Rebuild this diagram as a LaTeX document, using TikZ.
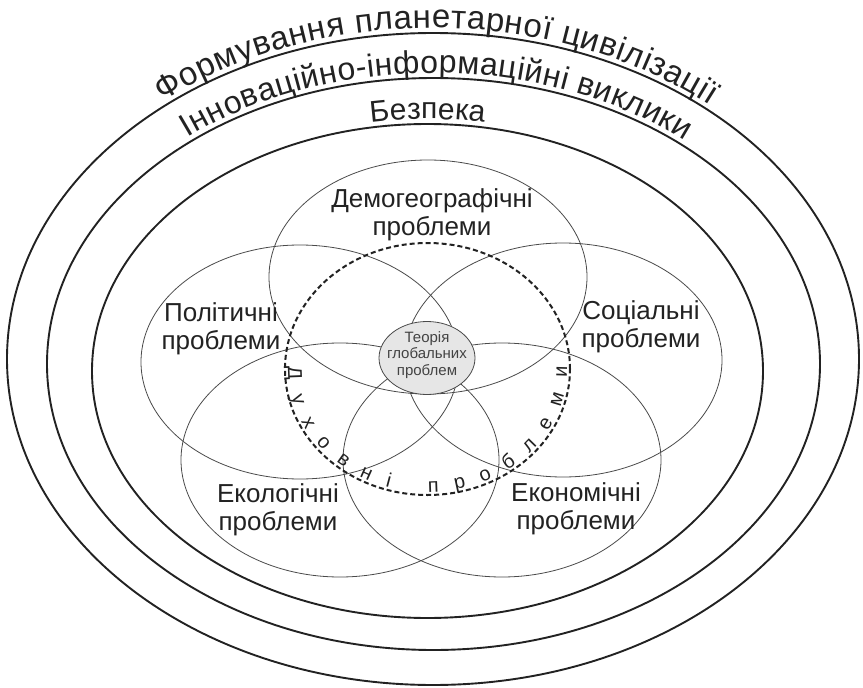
\documentclass[tikz,border=0pt]{standalone}
\usepackage{fontspec}
\setmainfont{Liberation Sans}
\usetikzlibrary{shapes.geometric,decorations.text,calc}
\definecolor{ink}{HTML}{222222}
\definecolor{petalline}{HTML}{4A4A4A}
\definecolor{corefill}{HTML}{E6E6E6}
\newcommand{\outerfont}{\fontsize{33}{33}\selectfont\color{ink}}
\newcommand{\middlefont}{\fontsize{32}{32}\selectfont\color{ink}}
\newcommand{\innerfont}{\fontsize{30}{30}\selectfont\color{ink}}
\newcommand{\spiritfont}{\fontsize{20}{20}\selectfont\color{ink}}

\begin{document}
\begin{tikzpicture}[x=1pt,y=-1pt,
	ring/.style={ellipse,draw=ink,line width=1.9pt,inner sep=0pt},
	petal/.style={ellipse,draw=petalline,line width=0.8pt,inner sep=0pt,minimum width=318pt,minimum height=234pt},
	spiritline/.style={ellipse,draw=ink,line width=2pt,dash pattern=on 5pt off 3pt,inner sep=0pt},
	lbl/.style={align=center,text=ink,font=\fontsize{26}{28.5}\selectfont},
	corelbl/.style={align=center,text=ink!85,font=\fontsize{15}{16.5}\selectfont}]
	\useasboundingbox (0,0) rectangle (863,688);
	\node[ring,minimum width=852pt,minimum height=652pt] (outer) at (433,359) {};
	\node[ring,minimum width=773pt,minimum height=572pt] (middle) at (433.5,364) {};
	\node[ring,minimum width=671pt,minimum height=494pt] (inner) at (427.5,371) {};

	\node[petal] (demo)   at (428,277) {};
	\node[petal] (polit)  at (300,362) {};
	\node[petal] (social) at (563,360) {};
	\node[petal] (ecol)   at (340,460) {};
	\node[petal] (econ)   at (502,460) {};
	\node[spiritline,minimum width=285pt,minimum height=252pt] (spirit) at (427.5,369) {};
	\node[ellipse,draw=petalline,fill=corefill,line width=0.8pt,inner sep=0pt,minimum width=96pt,minimum height=73pt] (core) at (427,358) {};

	\node[lbl] (demotxt)   at (432,215) {Демогеографічні\\проблеми};
	\node[lbl] (polittxt)  at (221,329) {Політичні\\проблеми};
	\node[lbl] (socialtxt) at (641,327) {Соціальні\\проблеми};
	\node[lbl] (ecoltxt)   at (278,510) {Екологічні\\проблеми};
	\node[lbl] (econtxt)   at (576,509) {Економічні\\проблеми};
	\node[corelbl] (coretxt) at ([yshift=3pt]core.center) {Теорія\\глобальних\\проблем};

	% написи вздовж еліпсів
	\path[decorate,decoration={text along path,raise=5pt,text align={fit to path},
		text={|\outerfont|Формування планетарної цивілізації}}]
		($(outer)+(231:426 and 326)$) arc[start angle=231,end angle=310,x radius=426,y radius=326];
	\path[decorate,decoration={text along path,raise=5pt,text align={fit to path},
		text={|\middlefont|Інноваційно-інформаційні виклики}}]
		($(middle)+(231:386.5 and 286)$) arc[start angle=231,end angle=310,x radius=386.5,y radius=286];
	\path[decorate,decoration={text along path,raise=5pt,text align=center,
		text={|\innerfont|Безпека}}]
		($(inner)+(245:335.5 and 247)$) arc[start angle=245,end angle=295,x radius=335.5,y radius=247];
	\path[decorate,decoration={text along path,raise=3pt,text align={fit to path},
		text={|\spiritfont|Духовні проблеми}}]
		($(spirit)+(181:142.5 and 126)$) arc[start angle=181,end angle=-1,x radius=142.5,y radius=126];
\end{tikzpicture}
\end{document}
